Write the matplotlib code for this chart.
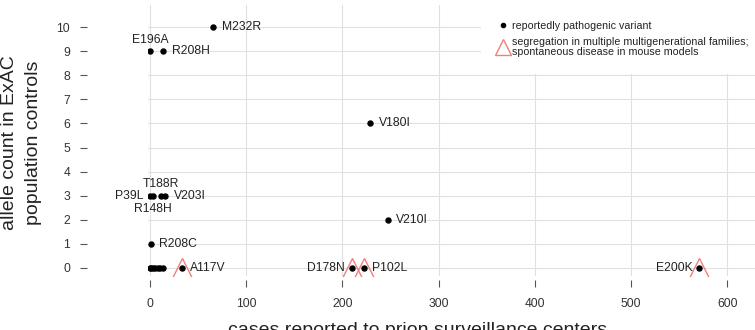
import numpy as np
import matplotlib
matplotlib.use('Agg')
import matplotlib.pyplot as plt
from matplotlib.lines import Line2D

plt.rcParams['font.family'] = ['Liberation Sans', 'DejaVu Sans']

# variants: (cases reported, allele count in ExAC)
variants = ['M232R', 'E196A', 'R208H', 'V180I', 'P39L', 'R148H', 'T188R', 'V203I',
            'V210I', 'R208C', 'A117V', 'D178N', 'P102L', 'E200K']
cases = [66, 0, 14, 229, 0, 3, 11, 16, 247, 1, 33, 210, 222, 571]
allele_count = [10, 9, 9, 6, 3, 3, 3, 3, 2, 1, 0, 0, 0, 0]
# where the label sits relative to the dot
label_side = ['right', 'above', 'right', 'right', 'left', 'below', 'above', 'right',
              'right', 'right', 'right', 'left', 'right', 'left']
# unlabelled variants at allele count 0
other_cases = [0, 1, 3, 5, 8, 10, 13]
other_count = [0, 0, 0, 0, 0, 0, 0]
# variants with segregation / mouse model evidence
strong = ['A117V', 'D178N', 'P102L', 'E200K']

xticks = [0, 100, 200, 300, 400, 500, 600]
yticks = list(range(0, 11))

W, H = 755, 330
fig = plt.figure(figsize=(W / 100, H / 100), dpi=100)
# axes box in pixels: left 148, right 756, top 5, bottom 276
ax = fig.add_axes([148 / W, (H - 276) / H, (756 - 148) / W, (276 - 5) / H])
ax.set_xlim(-2.08, 630)
ax.set_ylim(-0.332, 10.913)

ax.set_xticks(xticks)
ax.set_yticks(yticks)
ax.grid(True, color='#e0e0e0', lw=0.8)
ax.set_axisbelow(True)
for s in ['top', 'right']:
    ax.spines[s].set_visible(False)
ax.spines['left'].set_position(('outward', 44))
ax.spines['bottom'].set_position(('outward', 3))
ax.spines['left'].set_color('none')
ax.spines['bottom'].set_color('none')
ax.tick_params(axis='y', direction='out', length=5, width=0.8, color='#555555',
               labelsize=8.7, labelcolor='#333333', pad=7)
ax.tick_params(axis='x', direction='out', length=5, width=0.8, color='#555555',
               labelsize=8.7, labelcolor='#333333', pad=7.5)

tri_x = [c for v, c in zip(variants, cases) if v in strong]
tri_y = [a for v, a in zip(variants, allele_count) if v in strong]
ax.plot(tri_x, tri_y, ls='none', marker='^', ms=14, mfc='none', mec='#f07f7f', mew=1.0,
        zorder=3)
ax.plot(cases, allele_count, ls='none', marker='o', ms=3.6, color='black', zorder=4)
ax.plot(other_cases, other_count, ls='none', marker='o', ms=3.6, color='black', zorder=4)

offsets = {'right': ((6, 0), 'left', 'center'),
           'left': ((-5, 0), 'right', 'center'),
           'above': ((0, 4), 'center', 'bottom'),
           'below': ((0, -5), 'center', 'top')}
for v, c, a, side in zip(variants, cases, allele_count, label_side):
    off, ha, va = offsets[side]
    ax.annotate(v, (c, a), xytext=off, textcoords='offset points', ha=ha, va=va,
                fontsize=8.7, color='#222222', zorder=5)

handles = [Line2D([], [], ls='none', marker='o', ms=3, color='black'),
           Line2D([], [], ls='none', marker='^', ms=11, mfc='none', mec='#f07f7f', mew=1.0)]
labels = ['reportedly pathogenic variant',
          'segregation in multiple multigenerational families;\nspontaneous disease in mouse models']
leg = ax.legend(handles, labels, loc='upper right', bbox_to_anchor=(1.0164, 1.004),
                fontsize=7.7, frameon=True, facecolor='white', edgecolor='none',
                framealpha=1, fancybox=False, handlelength=0.9, handletextpad=0.45,
                labelspacing=0.55, borderpad=1.6, borderaxespad=0)
leg.get_texts()[1].set_linespacing(1.0)
for t in leg.get_texts():
    t.set_color('#222222')

fig.text(10 / W, 1 - 143 / H, 'allele count in ExAC', rotation=90, ha='center',
         va='center', fontsize=14, color='#222222')
fig.text(34 / W, 1 - 143 / H, 'population controls', rotation=90, ha='center',
         va='center', fontsize=14, color='#222222')
fig.text(418 / W, -5 / H, 'cases reported to prion surveillance centers', ha='center',
         va='baseline', fontsize=14, color='#222222')

fig.savefig('out.png', dpi=100)
